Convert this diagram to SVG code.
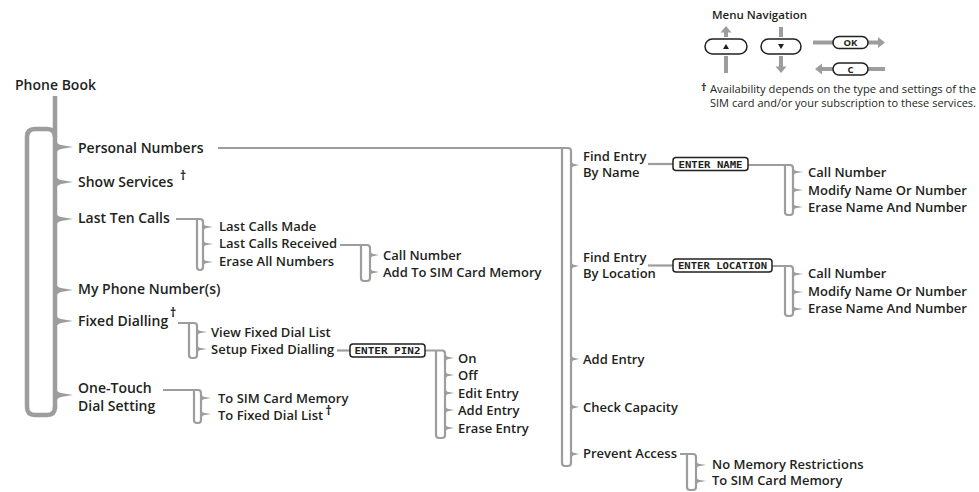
<svg xmlns="http://www.w3.org/2000/svg" width="979" height="492" viewBox="0 0 979 492">
<style>
text{font-family:"Open Sans","Noto Sans","DejaVu Sans",sans-serif;fill:#231f20;font-weight:600}
.m{font-size:14px}
.s{font-size:13px}
.dg{font-size:12px;font-weight:700}
.note{font-size:11px;font-weight:400}
.hd{font-size:11.5px}
.thick{fill:none;stroke:#9d9d9d;stroke-width:4.5}
.ln{fill:none;stroke:#9d9d9d;stroke-width:2.2}
.nt{fill:#9d9d9d}
.lcd{fill:#fff;stroke:#231f20;stroke-width:1.5}
.lt{font-family:"DejaVu Sans Mono","Liberation Mono",monospace;font-weight:700;font-size:9.5px;text-anchor:middle}
.btn{fill:#fff;stroke:#231f20;stroke-width:1.5}
.bt{font-size:9.5px;font-weight:700;text-anchor:middle}
.ga{fill:none;stroke:#9d9d9d;stroke-width:4}
</style>
<rect width="979" height="492" fill="#fff"/>

<g id="connectors">
  <!-- main Phone Book brace -->
  <path class="thick" d="M55,96 V409"/>
  <path class="thick" d="M55,137 Q55,129 47,129 H35 Q27,129 27,137 V407 Q27,415 35,415 H47 Q55,415 55,407"/>
  <path class="nt" d="M55,137 Q56,144 61,145 L73,147 L61,149 Q56,150 55,157 Z"/>
  <path class="nt" d="M55,172 Q56,179 61,180 L73,182 L61,184 Q56,185 55,192 Z"/>
  <path class="nt" d="M55,209 Q56,216 61,217 L73,219 L61,221 Q56,222 55,229 Z"/>
  <path class="nt" d="M55,280 Q56,287 61,288 L73,290 L61,292 Q56,293 55,300 Z"/>
  <path class="nt" d="M55,311 Q56,318 61,319 L73,321 L61,323 Q56,324 55,331 Z"/>
  <path class="nt" d="M55,385 Q56,392 61,393 L73,395 L61,397 Q56,398 55,405 Z"/>

  <!-- Last Ten Calls -->
  <path class="ln" d="M176,219 H200 Q203,219 203,222 V267 Q203,270 200,270 Q197,270 197,267 V219"/>
  <path class="nt" d="M203,222.5 Q204,225.8 207,226 L213,227 L207,228 Q204,228.2 203,231.5 Z"/>
  <path class="nt" d="M203,239.5 Q204,242.8 207,243 L213,244 L207,245 Q204,245.2 203,248.5 Z"/>
  <path class="nt" d="M203,257.5 Q204,260.8 207,261 L213,262 L207,263 Q204,263.2 203,266.5 Z"/>

  <!-- Last Calls Received -->
  <path class="ln" d="M340,245 H367 Q370,245 370,248 V278 Q370,281 367,281 H364 Q361,281 361,278 V245"/>
  <path class="nt" d="M370,250.5 Q371,253.8 374,254 L379,255 L374,256 Q371,256.2 370,259.5 Z"/>
  <path class="nt" d="M370,267.5 Q371,270.8 374,271 L379,272 L374,273 Q371,273.2 370,276.5 Z"/>

  <!-- Fixed Dialling -->
  <path class="ln" d="M178,323 H194 Q197,323 197,326 V355 Q197,358 194,358 H192 Q189,358 189,355 V323"/>
  <path class="nt" d="M197,327.5 Q198,330.8 201,331 L207,332 L201,333 Q198,333.2 197,336.5 Z"/>
  <path class="nt" d="M197,344.5 Q198,347.8 201,348 L207,349 L201,350 Q198,350.2 197,353.5 Z"/>

  <!-- Setup Fixed Dialling to ENTER PIN2 -->
  <path class="ln" d="M337,350.5 H350"/>
  <path class="ln" d="M425,350.5 H442 Q445,350.5 445,353.5 V435 Q445,438 442,438 H439 Q436,438 436,435 V350.5"/>
  <path class="nt" d="M445,353.5 Q446,356.8 449,357 L454,358 L449,359 Q446,359.2 445,362.5 Z"/>
  <path class="nt" d="M445,370.5 Q446,373.8 449,374 L454,375 L449,376 Q446,376.2 445,379.5 Z"/>
  <path class="nt" d="M445,388.5 Q446,391.8 449,392 L454,393 L449,394 Q446,394.2 445,397.5 Z"/>
  <path class="nt" d="M445,405.5 Q446,408.8 449,409 L454,410 L449,411 Q446,411.2 445,414.5 Z"/>
  <path class="nt" d="M445,423.5 Q446,426.8 449,427 L454,428 L449,429 Q446,429.2 445,432.5 Z"/>

  <!-- One-Touch Dial Setting -->
  <path class="ln" d="M163,390 H198 Q201,390 201,393 V420 Q201,423 198,423 H197 Q194,423 194,420 V390"/>
  <path class="nt" d="M201,393.5 Q202,396.8 205,397 L211,398 L205,399 Q202,399.2 201,402.5 Z"/>
  <path class="nt" d="M201,409.5 Q202,412.8 205,413 L211,414 L205,415 Q202,415.2 201,418.5 Z"/>

  <!-- Personal Numbers column -->
  <path class="ln" d="M218,148 H568 Q571,148 571,151 V463 Q571,466 568,466 H565 Q562,466 562,463 V148"/>
  <path class="nt" d="M571,160.5 Q572,163.8 575,164 L579,165 L575,166 Q572,166.2 571,169.5 Z"/>
  <path class="nt" d="M571,261.5 Q572,264.8 575,265 L579,266 L575,267 Q572,267.2 571,270.5 Z"/>
  <path class="nt" d="M571,354.5 Q572,357.8 575,358 L579,359 L575,360 Q572,360.2 571,363.5 Z"/>
  <path class="nt" d="M571,402.5 Q572,405.8 575,406 L579,407 L575,408 Q572,408.2 571,411.5 Z"/>
  <path class="nt" d="M571,449.5 Q572,452.8 575,453 L579,454 L575,455 Q572,455.2 571,458.5 Z"/>

  <!-- Find Entry By Name -->
  <path class="ln" d="M648,164 H673"/>
  <path class="ln" d="M748,165 H790 Q793,165 793,168 V212 Q793,215 790,215 H788 Q785,215 785,212 V165"/>
  <path class="nt" d="M793,167.5 Q794,170.8 797,171 L803,172 L797,173 Q794,173.2 793,176.5 Z"/>
  <path class="nt" d="M793,185.5 Q794,188.8 797,189 L803,190 L797,191 Q794,191.2 793,194.5 Z"/>
  <path class="nt" d="M793,202.5 Q794,205.8 797,206 L803,207 L797,208 Q794,208.2 793,211.5 Z"/>

  <!-- Find Entry By Location -->
  <path class="ln" d="M648,265.5 H673"/>
  <path class="ln" d="M772,266 H790 Q793,266 793,269 V313 Q793,316 790,316 H788 Q785,316 785,313 V266"/>
  <path class="nt" d="M793,269.5 Q794,272.8 797,273 L803,274 L797,275 Q794,275.2 793,278.5 Z"/>
  <path class="nt" d="M793,287.5 Q794,290.8 797,291 L803,292 L797,293 Q794,293.2 793,296.5 Z"/>
  <path class="nt" d="M793,304.5 Q794,307.8 797,308 L803,309 L797,310 Q794,310.2 793,313.5 Z"/>

  <!-- Prevent Access -->
  <path class="ln" d="M680,454 H693 Q696,454 696,457 V487 Q696,490 693,490 H690 Q687,490 687,487 V454"/>
  <path class="nt" d="M696,460.5 Q697,463.8 700,464 L706,465 L700,466 Q697,466.2 696,469.5 Z"/>
  <path class="nt" d="M696,476.5 Q697,479.8 700,480 L706,481 L700,482 Q697,482.2 696,485.5 Z"/>
</g>

<g id="phone-book"><text class="m" x="15" y="90">Phone Book</text></g>
<g id="personal-numbers"><text class="m" x="78" y="153">Personal Numbers</text></g>
<g id="show-services"><text class="m" x="78" y="187">Show Services</text><text class="dg" x="180" y="180">†</text></g>
<g id="last-ten-calls"><text class="m" x="78" y="223">Last Ten Calls</text></g>
<g id="my-phone-numbers"><text class="m" x="78" y="294">My Phone Number(s)</text></g>
<g id="fixed-dialling"><text class="m" x="78" y="326">Fixed Dialling</text><text class="dg" x="170" y="317">†</text></g>
<g id="one-touch"><text class="m" x="78" y="393">One-Touch</text><text class="m" x="78" y="411">Dial Setting</text></g>

<g id="last-calls-made"><text class="s" x="219" y="231">Last Calls Made</text></g>
<g id="last-calls-received"><text class="s" x="219" y="248">Last Calls Received</text></g>
<g id="erase-all-numbers"><text class="s" x="219" y="266">Erase All Numbers</text></g>
<g id="lcr-call-number"><text class="s" x="383" y="260">Call Number</text></g>
<g id="lcr-add-sim"><text class="s" x="383" y="276.5">Add To SIM Card Memory</text></g>

<g id="view-fixed-dial-list"><text class="s" x="211" y="336.5">View Fixed Dial List</text></g>
<g id="setup-fixed-dialling"><text class="s" x="211" y="353.5">Setup Fixed Dialling</text></g>
<g id="enter-pin2"><rect class="lcd" x="350" y="344" width="75" height="13" rx="3"/><text class="lt" x="387.5" y="354" textLength="66" lengthAdjust="spacingAndGlyphs">ENTER PIN2</text></g>
<g id="fd-on"><text class="s" x="458" y="362.5">On</text></g>
<g id="fd-off"><text class="s" x="458" y="380">Off</text></g>
<g id="fd-edit"><text class="s" x="458" y="397.5">Edit Entry</text></g>
<g id="fd-add"><text class="s" x="458" y="415">Add Entry</text></g>
<g id="fd-erase"><text class="s" x="458" y="432.5">Erase Entry</text></g>

<g id="ot-sim"><text class="s" x="218" y="403">To SIM Card Memory</text></g>
<g id="ot-fixed"><text class="s" x="218" y="419.5">To Fixed Dial List</text><text class="dg" x="325.5" y="414.5">†</text></g>

<g id="find-by-name"><text class="s" x="583" y="161">Find Entry</text><text class="s" x="583" y="177">By Name</text></g>
<g id="enter-name"><rect class="lcd" x="673" y="157.5" width="75" height="13" rx="3"/><text class="lt" x="710.5" y="167.5" textLength="64" lengthAdjust="spacingAndGlyphs">ENTER NAME</text></g>
<g id="name-call"><text class="s" x="808" y="176.5">Call Number</text></g>
<g id="name-modify"><text class="s" x="808" y="194.5">Modify Name Or Number</text></g>
<g id="name-erase"><text class="s" x="808" y="211.5">Erase Name And Number</text></g>

<g id="find-by-location"><text class="s" x="583" y="262">Find Entry</text><text class="s" x="583" y="278">By Location</text></g>
<g id="enter-location"><rect class="lcd" x="673" y="259" width="99" height="13" rx="3"/><text class="lt" x="722.5" y="269" textLength="89" lengthAdjust="spacingAndGlyphs">ENTER LOCATION</text></g>
<g id="loc-call"><text class="s" x="808" y="278">Call Number</text></g>
<g id="loc-modify"><text class="s" x="808" y="296">Modify Name Or Number</text></g>
<g id="loc-erase"><text class="s" x="808" y="313">Erase Name And Number</text></g>

<g id="add-entry"><text class="s" x="583" y="363.5">Add Entry</text></g>
<g id="check-capacity"><text class="s" x="583" y="411.5">Check Capacity</text></g>
<g id="prevent-access"><text class="s" x="583" y="458">Prevent Access</text></g>
<g id="no-memory-restrictions"><text class="s" x="712" y="469">No Memory Restrictions</text></g>
<g id="pa-sim"><text class="s" x="712" y="485">To SIM Card Memory</text></g>

<g id="legend">
  <text class="hd" x="712" y="19">Menu Navigation</text>
  <path class="ga" d="M726,37 V31"/>
  <path class="nt" d="M720.5,32.5 L731.5,32.5 L726,26 Z"/>
  <path class="ga" d="M726,56 V73"/>
  <rect class="btn" x="705" y="39" width="42" height="15" rx="7.5"/>
  <path fill="#231f20" d="M723,49 L726,44 L729,49 Z"/>
  <path class="ga" d="M781,27 V37"/>
  <path class="ga" d="M781,56 V67"/>
  <path class="nt" d="M775.5,66.5 L786.5,66.5 L781,73 Z"/>
  <rect class="btn" x="761" y="39" width="40" height="15" rx="7.5"/>
  <path fill="#231f20" d="M778,44 L784,44 L781,49 Z"/>
  <path class="ga" d="M813,42.5 H833"/>
  <path class="ga" d="M868,42.5 H879"/>
  <path class="nt" d="M878,37 L885,42.5 L878,48 Z"/>
  <rect class="btn" x="833" y="36.5" width="35" height="12" rx="6"/>
  <text class="bt" x="850.5" y="46">OK</text>
  <path class="ga" d="M821,69 H833"/>
  <path class="nt" d="M822,63.5 L815,69 L822,74.5 Z"/>
  <path class="ga" d="M868,69 H885"/>
  <rect class="btn" x="833" y="63" width="35" height="12" rx="6"/>
  <text class="bt" x="850.5" y="72.5">C</text>
  <text class="dg" x="701" y="91" style="font-size:11px">†</text>
  <text class="note" x="710" y="93" textLength="266" lengthAdjust="spacingAndGlyphs">Availability depends on the type and settings of the</text>
  <text class="note" x="710" y="107" textLength="266" lengthAdjust="spacingAndGlyphs">SIM card and/or your subscription to these services.</text>
</g>
</svg>
